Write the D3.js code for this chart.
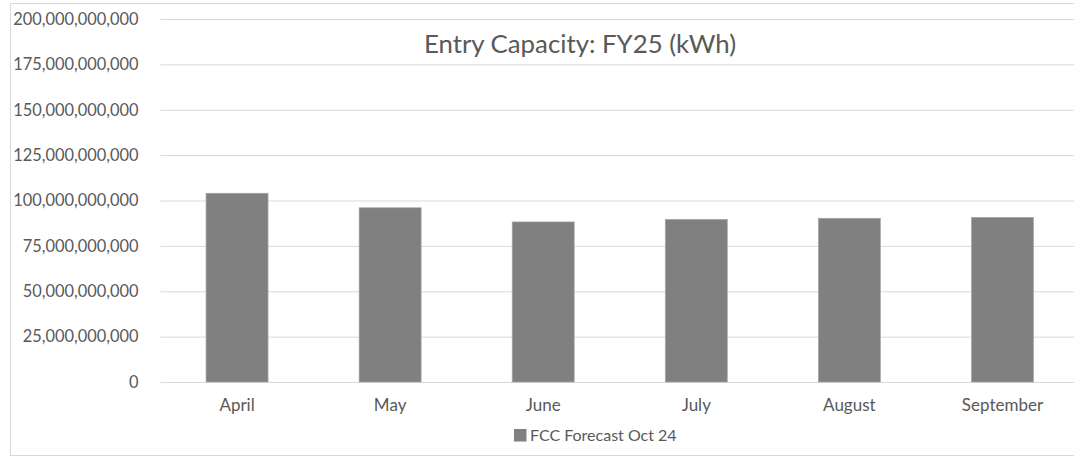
<!DOCTYPE html>
<html><head><meta charset="utf-8">
<script src="https://cdn.jsdelivr.net/npm/d3@7/dist/d3.min.js"></script>
<style>
html,body{margin:0;padding:0;background:#fff;}
svg{display:block;}
text{font-family:Lato, sans-serif;fill:#595959;}
</style></head>
<body>
<svg id="c" width="1074" height="457"></svg>
<script>
const categories = ["April","May","June","July","August","September"];
const values = [104.0e9, 96.0e9, 88.2e9, 89.6e9, 90.2e9, 90.7e9];
const yTicks = [0,25e9,50e9,75e9,100e9,125e9,150e9,175e9,200e9];
const seriesName = "FCC Forecast Oct 24";
const title = "Entry Capacity: FY25 (kWh)";
const FF = "Lato, sans-serif";

const svg = d3.select("#c");
svg.append("rect").attr("x",10.5).attr("y",3.5).attr("width",1100).attr("height",452)
  .attr("fill","#fff").attr("stroke","#d9d9d9").attr("stroke-width",1);

const x = d3.scaleBand().domain(categories).range([160.5,1079]).paddingInner(0.595).paddingOuter(0.2975);
const y = d3.scaleLinear().domain([0,200e9]).range([382,19]);

const fmt = d3.format(",");
const yAxis = svg.append("g").attr("transform","translate(160.5,0)")
  .call(d3.axisLeft(y).tickValues(yTicks).tickFormat(fmt).tickSize(-920).tickPadding(22));
yAxis.select(".domain").remove();
yAxis.selectAll(".tick line").attr("stroke","#d9d9d9").attr("stroke-width",1);
yAxis.selectAll(".tick text").attr("font-size",16.4).attr("fill","#595959").style("font-family",FF);

svg.append("g").selectAll("rect").data(values).join("rect")
  .attr("x",(d,i)=>x(categories[i]))
  .attr("y",d=>y(d))
  .attr("width",x.bandwidth())
  .attr("height",d=>y(0)-y(d))
  .attr("fill","#808080").attr("stroke","#a6a6a6").attr("stroke-width",0.7);

const xAxis = svg.append("g").attr("transform","translate(0,382)")
  .call(d3.axisBottom(x).tickSize(0).tickPadding(17));
xAxis.select(".domain").remove();
xAxis.selectAll(".tick text").attr("font-size",17).attr("fill","#595959").style("font-family",FF);

svg.append("text").attr("x",580).attr("y",53).attr("text-anchor","middle")
  .attr("font-size",25.8).style("font-family",FF).text(title);

const lg = svg.append("g");
lg.append("rect").attr("x",514).attr("y",429).attr("width",12.5).attr("height",12.5).attr("fill","#808080");
lg.append("text").attr("x",530).attr("y",441).attr("font-size",16).style("font-family",FF).text(seriesName);
</script>
</body></html>
